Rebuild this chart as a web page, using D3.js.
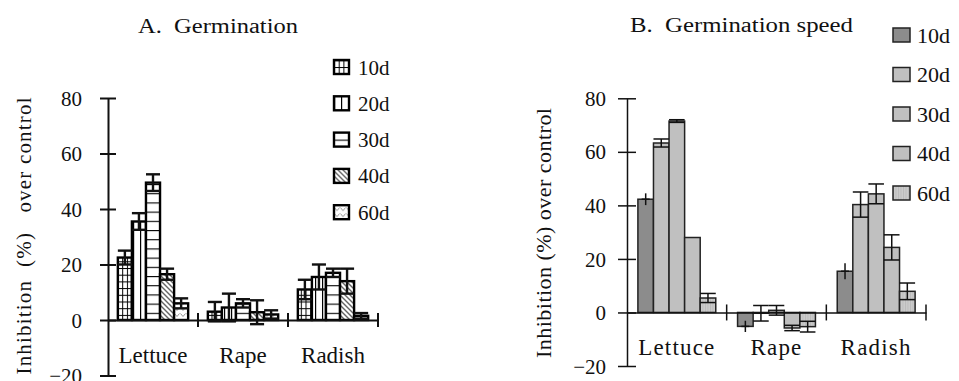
<!DOCTYPE html>
<html><head><meta charset="utf-8">
<script src="https://cdn.jsdelivr.net/npm/d3@7"></script>
<style>
html,body{margin:0;padding:0;background:#fff;}
svg text{font-family:'Liberation Serif','Tinos','Times New Roman','DejaVu Serif',serif !important;fill:#111;}
</style></head>
<body><svg id="c" width="959" height="381"></svg>
<script>
const categories = ["Lettuce", "Rape", "Radish"];
const series = ["10d", "20d", "30d", "40d", "60d"];
const yTicks = [-20, 0, 20, 40, 60, 80];
// A. Germination: values per category, per series
const germLettuce = [22.5, 35.5, 49.5, 16.5, 6];
const germRape = [3, 4.5, 6, 2.8, 2];
const germRadish = [11, 15.5, 17, 14, 1.5];
const germLettuceErr = [2.5, 3, 3, 2, 1.8];
const germRapeErr = [3.5, 5, 1.5, 4.3, 1.5];
const germRadishErr = [3.5, 4.5, 1.5, 4.5, 1];
// B. Germination speed
const speedLettuce = [42.3, 63.3, 71.5, 28, 5.4];
const speedRape = [-5.2, -0.3, 0.8, -5.8, -5.3];
const speedRadish = [15.4, 40.3, 44.3, 24.3, 7.9];
const speedLettuceErr = [2.2, 1.5, 0.5, 0, 1.7];
const speedRapeErr = [2.1, 2.9, 1.8, 1, 2];
const speedRadishErr = [3, 4.7, 3.7, 4.7, 3.1];

const germ = [germLettuce, germRape, germRadish];
const germErr = [germLettuceErr, germRapeErr, germRadishErr];
const speed = [speedLettuce, speedRape, speedRadish];
const speedErr = [speedLettuceErr, speedRapeErr, speedRadishErr];

const FONT = "'Liberation Serif', Tinos, 'Times New Roman', 'DejaVu Serif', serif";
const svg = d3.select("#c");
const defs = svg.append("defs");

function pat(id, w, h, draw, bg) {
  const p = defs.append("pattern").attr("id", id).attr("patternUnits", "userSpaceOnUse")
    .attr("width", w).attr("height", h);
  p.append("rect").attr("width", w).attr("height", h).attr("fill", bg || "#fff");
  draw(p);
}
pat("p10", 4.7, 6.7, p => {
  p.append("line").attr("x1", 0).attr("x2", 0).attr("y1", 0).attr("y2", 6.7).attr("stroke", "#000").attr("stroke-width", 2);
  p.append("line").attr("x1", 0).attr("x2", 4.7).attr("y1", 0).attr("y2", 0).attr("stroke", "#000").attr("stroke-width", 2);
});
pat("p20", 7, 10, p => {
  p.append("line").attr("x1", 0).attr("x2", 0).attr("y1", 0).attr("y2", 10).attr("stroke", "#000").attr("stroke-width", 2.4);
});
pat("p30", 10, 9.2, p => {
  p.append("line").attr("x1", 0).attr("x2", 10).attr("y1", 0).attr("y2", 0).attr("stroke", "#000").attr("stroke-width", 2.2);
});
pat("p40", 5, 5, p => {
  p.append("path").attr("d", "M-1,-1 L6,6 M-1,4 L1,6 M4,-1 L6,1").attr("stroke", "#666").attr("stroke-width", 1.4);
});
pat("p60", 6, 6, p => {
  p.append("path").attr("d", "M0.5,1.5 L3,4.5 L5.5,1.5").attr("stroke", "#888").attr("stroke-width", 0.9).attr("fill", "none");
});
pat("pB60", 2.5, 10, p => {
  p.append("line").attr("x1", 0.5).attr("x2", 0.5).attr("y1", 0).attr("y2", 10).attr("stroke", "#b6b6b6").attr("stroke-width", 0.8);
}, "#cbcbcb");

const fillA = ["url(#p10)", "url(#p20)", "url(#p30)", "url(#p40)", "url(#p60)"];
const fillB = ["#8c8c8c", "#c0c0c0", "#c0c0c0", "#c0c0c0", "url(#pB60)"];

function panel(cfg) {
  const g = svg.append("g");
  const y = d3.scaleLinear().domain([-20, 80]).range([cfg.y0, cfg.y80]);
  const x0 = d3.scaleBand().domain(categories).range([cfg.xl, cfg.xr]).paddingInner(0).paddingOuter(0);
  const x1 = d3.scaleBand().domain(series).range([0, x0.bandwidth()]).paddingInner(0).paddingOuter(cfg.pad);

  const rows = [];
  categories.forEach((c, ci) => series.forEach((s, si) => rows.push({c, s, si, v: cfg.vals[ci][si], e: cfg.errs[ci][si]})));

  g.selectAll("rect.bar").data(rows).join("rect").attr("class", "bar")
    .attr("x", d => x0(d.c) + x1(d.s)).attr("width", x1.bandwidth())
    .attr("y", d => y(Math.max(0, d.v))).attr("height", d => Math.abs(y(d.v) - y(0)))
    .attr("fill", d => cfg.fills[d.si]).attr("stroke", cfg.barStroke).attr("stroke-width", cfg.barSW);

  const eg = g.selectAll("g.err").data(rows.filter(d => d.e > 0)).join("g").attr("class", "err")
    .attr("stroke", "#111").attr("stroke-width", cfg.errSW);
  const cx = d => x0(d.c) + x1(d.s) + x1.bandwidth() / 2;
  eg.append("line").attr("x1", cx).attr("x2", cx).attr("y1", d => y(d.v - d.e)).attr("y2", d => y(d.v + d.e));
  const cw = x1.bandwidth() * cfg.capFrac / 2;
  [1, -1].forEach(sg => {
    eg.filter(d => cfg.caps[d.si]).append("line")
      .attr("x1", d => cx(d) - cw).attr("x2", d => cx(d) + cw)
      .attr("y1", d => y(d.v + sg * d.e)).attr("y2", d => y(d.v + sg * d.e));
  });
  eg.filter(d => !cfg.caps[d.si]).append("line")
    .attr("x1", d => cx(d) - 4).attr("x2", d => cx(d) + 4)
    .attr("y1", d => y(d.v)).attr("y2", d => y(d.v));

  const ya = d3.axisLeft(y).tickValues(yTicks).tickSize(0).tickPadding(0).tickFormat(d3.format("d"));
  const yg = g.append("g").attr("transform", `translate(${cfg.xl},0)`).call(ya).attr("font-family", FONT);
  yg.select(".domain").attr("stroke", "#111").attr("stroke-width", cfg.axSW);
  yg.selectAll(".tick line").remove();
  yg.selectAll(".tick").append("line").attr("x1", -cfg.tk).attr("x2", cfg.tk).attr("stroke", "#111").attr("stroke-width", cfg.axSW);
  yg.selectAll(".tick text").attr("x", cfg.labRight - cfg.xl).attr("font-size", cfg.tickFS).attr("dy", "0.34em")
    .style("font-family", FONT).attr("fill", "#111");

  const xa = d3.axisBottom(x0).tickSize(0).tickFormat("");
  const xg = g.append("g").attr("transform", `translate(0,${y(0)})`).call(xa);
  xg.select(".domain").attr("stroke", "#111").attr("stroke-width", cfg.axSW);
  xg.selectAll(".tick").remove();
  const bounds = categories.map(c => x0(c) + x0.bandwidth());
  xg.selectAll("line.ct").data(bounds).join("line").attr("class", "ct")
    .attr("x1", d => d).attr("x2", d => d).attr("y1", -cfg.xtk).attr("y2", cfg.xtk)
    .attr("stroke", "#111").attr("stroke-width", cfg.axSW);

  g.selectAll("text.cat").data(categories).join("text").attr("class", "cat")
    .attr("x", d => x0(d) + x0.bandwidth() / 2).attr("y", cfg.catY).attr("text-anchor", "middle")
    .style("font-family", FONT)
    .attr("font-size", cfg.catFS).attr("letter-spacing", cfg.catLS).text(d => d);

  g.append("text").attr("transform", `translate(${cfg.ytX},${cfg.ytY}) rotate(-90)`)
    .attr("text-anchor", "middle").attr("font-size", cfg.ytFS).style("white-space", "pre").style("font-family", FONT)
    .attr("textLength", cfg.ytLen).attr("lengthAdjust", "spacing").text(cfg.ytitle);

  g.append("text").attr("x", cfg.tX).attr("y", cfg.tY).attr("font-size", cfg.tFS).style("white-space", "pre").style("font-family", FONT)
    .attr("textLength", cfg.tLen).attr("lengthAdjust", "spacingAndGlyphs").text(cfg.title);

  const lg = g.selectAll("g.leg").data(series).join("g").attr("class", "leg")
    .attr("transform", (d, i) => `translate(${cfg.lgX},${cfg.lgY + i * cfg.lgStep})`);
  lg.append("rect").attr("x", 0).attr("y", -cfg.lgH / 2).attr("width", cfg.lgW).attr("height", cfg.lgH)
    .attr("fill", (d, i) => cfg.fills[i]).attr("stroke", cfg.barStroke).attr("stroke-width", cfg.lgSW);
  lg.append("text").attr("x", cfg.lgTX).attr("y", 0).attr("dy", "0.36em").attr("font-size", cfg.lgFS)
    .style("font-family", FONT).text(d => d);
}

panel({
  vals: germ, errs: germErr, fills: fillA, barStroke: "#000", barSW: 2.4, errSW: 2.4,
  caps: [true, true, true, true, true], capFrac: 1.0,
  y0: 375.5, y80: 98, xl: 108, xr: 378, pad: 0.7,
  axSW: 2, tk: 8, xtk: 7, labRight: 82, tickFS: 21,
  catY: 363, catFS: 23, catLS: 0,
  ytitle: "Inhibition  (%)   over control", ytX: 31, ytY: 236, ytFS: 21, ytLen: 277,
  title: "A.  Germination", tX: 138, tY: 33, tFS: 20, tLen: 160,
  lgX: 334, lgY: 67, lgStep: 36.3, lgW: 15, lgH: 14, lgSW: 2.4, lgTX: 24, lgFS: 21
});

panel({
  vals: speed, errs: speedErr, fills: fillB, barStroke: "#222", barSW: 1.5, errSW: 1.5,
  caps: [false, true, true, true, true], capFrac: 1.0,
  y0: 366, y80: 98.3, xl: 627, xr: 926, pad: 0.7,
  axSW: 1.5, tk: 9, xtk: 8, labRight: 606, tickFS: 21,
  catY: 355, catFS: 23, catLS: 1.2,
  ytitle: "Inhibition (%) over control", ytX: 551, ytY: 233, ytFS: 22, ytLen: 250,
  title: "B.  Germination speed", tX: 630, tY: 32, tFS: 20, tLen: 223,
  lgX: 893, lgY: 35, lgStep: 39.5, lgW: 17, lgH: 14, lgSW: 1.5, lgTX: 24, lgFS: 22
});
</script></body></html>
